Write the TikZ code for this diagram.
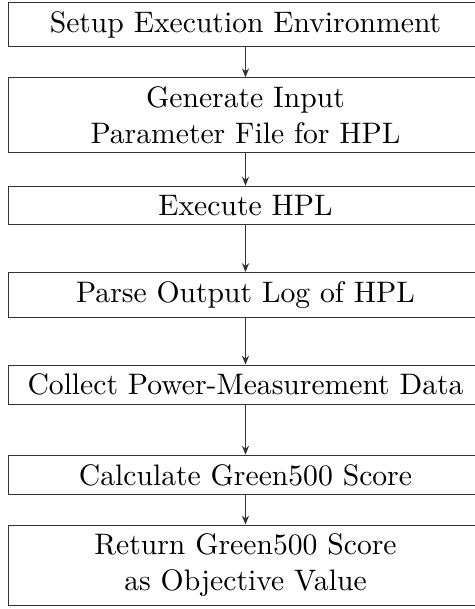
\documentclass[tikz,border=0pt]{standalone}
\usetikzlibrary{arrows.meta, positioning}

\begin{document}
\begin{tikzpicture}[
    stepbox/.style={rectangle, draw=black!80, text width=154pt,
                    align=center, inner sep=3pt},
    arr/.style={-{Stealth[length=3pt, width=2.4pt]}, black!80}
  ]
  \useasboundingbox (0,0) rectangle (160.2pt,-205.4pt);

  % Steps of the evaluation
  \node[stepbox, anchor=north west] (setup) at (2.6pt,-0.57pt) {Setup Execution Environment};
  \node[stepbox, below=10.1pt of setup] (gen) {Generate Input\\ Parameter File for HPL};
  \node[stepbox, below=11pt of gen] (exec) {Execute HPL};
  \node[stepbox, below=15.8pt of exec] (parse) {Parse Output Log of HPL};
  \node[stepbox, below=15.7pt of parse] (power) {Collect Power-Measurement Data};
  \node[stepbox, below=16.7pt of power] (calc) {Calculate Green500 Score};
  \node[stepbox, below=9.9pt of calc] (ret) {Return Green500 Score\\ as Objective Value};

  \draw[arr] (setup) -- (gen);
  \draw[arr] (gen) -- (exec);
  \draw[arr] (exec) -- (parse);
  \draw[arr] (parse) -- (power);
  \draw[arr] (power) -- (calc);
  \draw[arr] (calc) -- (ret);
\end{tikzpicture}
\end{document}
